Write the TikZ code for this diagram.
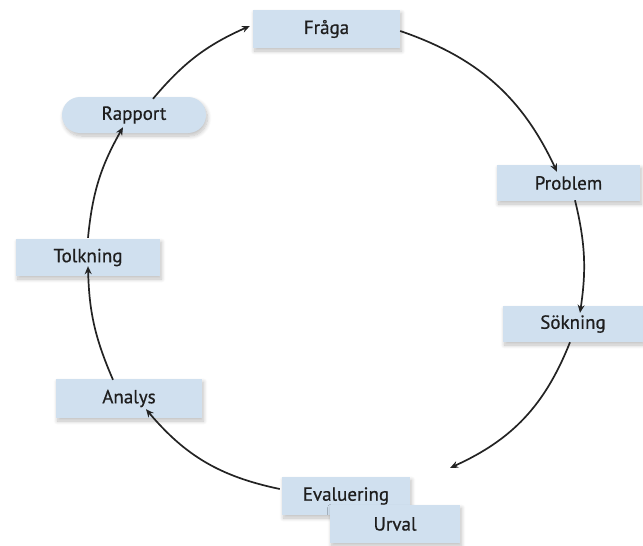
\documentclass[tikz,border=0pt]{standalone}
\usepackage{fontspec}
\setmainfont{PT Sans}
\newfontfamily\boxfont[FakeBold=0.6]{PT Sans}
\usetikzlibrary{arrows.meta,shadows.blur}
\definecolor{boxblue}{RGB}{208,224,239}
\definecolor{txt}{RGB}{30,30,30}
\definecolor{linec}{RGB}{35,35,35}
\begin{document}
\begin{tikzpicture}[x=1pt,y=-1pt,
  stepbox/.style={fill=boxblue, draw=none, inner sep=0pt, text=txt,
    font=\boxfont\fontsize{19}{21}\selectfont,
    blur shadow={shadow xshift=1.5pt, shadow yshift=-3pt, shadow blur steps=10, shadow opacity=25, shadow blur radius=4pt}},
  arr/.style={draw=linec, line width=1.7pt, -{Stealth[length=8pt,width=7pt]}}]
\useasboundingbox (0,0) rectangle (643,546);
\node[stepbox, minimum width=147pt, minimum height=38pt] (fraga) at (326.5,29) {Fråga};
\node[stepbox, minimum width=144pt, minimum height=36pt, rounded corners=18pt] (rapport) at (134,115) {Rapport};
\node[stepbox, minimum width=143pt, minimum height=36pt] (problem) at (568.5,183) {Problem};
\node[stepbox, minimum width=140pt, minimum height=36pt] (sokning) at (573,324) {Sökning};
\node[stepbox, minimum width=144pt, minimum height=37pt] (tolkning) at (88,257.5) {Tolkning};
\node[stepbox, minimum width=146pt, minimum height=39pt] (analys) at (129,398.5) {Analys};
\node[stepbox, minimum width=128pt, minimum height=38pt] (eval) at (346,496) {Evaluering};
\node[stepbox, minimum width=130pt, minimum height=38pt] (urval) at (395,524) {Urval};
\draw[arr] ([xshift=19pt,yshift=-2pt]rapport.north) to[bend left=13] ([xshift=-3pt,yshift=3pt]fraga.west);
\draw[arr] ([yshift=-2pt]fraga.east) to[bend left=23] ([xshift=-11.5pt,yshift=-7pt]problem.north);
\draw[arr] ([xshift=6.5pt,yshift=1pt]problem.south) to[bend left=11] ([xshift=7pt,yshift=-7pt]sokning.north);
\draw[arr] ([xshift=-3pt]sokning.south) to[bend left=22] ([xshift=40pt,yshift=9pt]eval.north east);
\draw[arr] ([xshift=-2pt,yshift=7pt]eval.west) to[bend left=19] ([xshift=17pt,yshift=9pt]analys.south);
\draw[arr] ([xshift=-16pt,yshift=-1pt]analys.north) to[bend left=11] ([yshift=10pt]tolkning.south);
\draw[arr] ([yshift=1pt]tolkning.north) to[bend left=12] ([xshift=-11pt,yshift=6pt]rapport.south);
\end{tikzpicture}
\end{document}
